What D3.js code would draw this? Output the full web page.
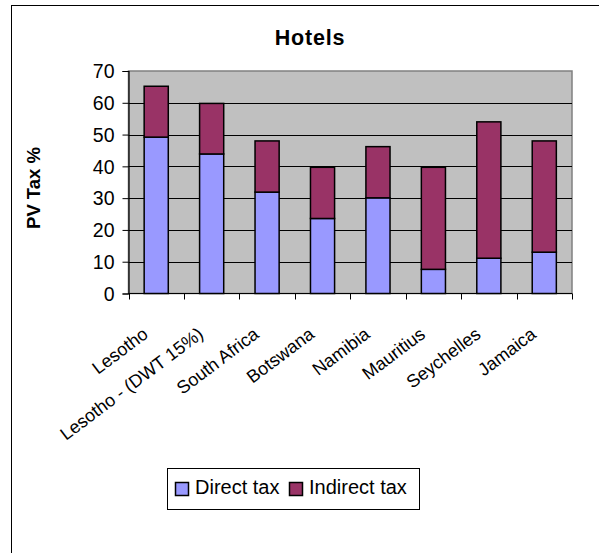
<!DOCTYPE html>
<html>
<head>
<meta charset="utf-8">
<script src="https://cdn.jsdelivr.net/npm/d3@7"></script>
<style>
  html, body { margin: 0; padding: 0; background: #fff; }
  svg { display: block; font-family: Arial, "Liberation Sans", sans-serif; }
</style>
</head>
<body>
<svg id="chart" width="599" height="553"></svg>
<script>
// Hotels: present-value tax burden, split into direct and indirect components
const categories = ["Lesotho", "Lesotho - (DWT 15%)", "South Africa", "Botswana",
                    "Namibia", "Mauritius", "Seychelles", "Jamaica"];
const directTax   = [49.2, 43.9, 31.9, 23.6, 30.1, 7.6, 11.1, 13.0];
const indirectTax = [16.0, 15.9, 16.1, 16.1, 16.1, 32.1, 42.9, 35.0];
const seriesNames = ["Direct tax", "Indirect tax"];
const seriesColors = ["#9999FF", "#993366"];
const yTicks = [0, 10, 20, 30, 40, 50, 60, 70];

const svg = d3.select("#chart");

// outer chart frame (runs off the right and bottom edges)
svg.append("rect")
  .attr("x", 11.5).attr("y", 5.5)
  .attr("width", 620).attr("height", 600)
  .attr("fill", "#fff").attr("stroke", "#000").attr("stroke-width", 1);

const plot = { left: 128.5, right: 572, top: 71, bottom: 293.5 };

const x = d3.scaleBand()
  .domain(categories)
  .range([plot.left, plot.right])
  .paddingInner(0.565).paddingOuter(0.2825);

const xb = d3.scaleBand().domain(categories).range([plot.left, plot.right]);

const y = d3.scaleLinear().domain([0, 70]).range([plot.bottom, plot.top]);

// plot background
svg.append("rect")
  .attr("x", plot.left).attr("y", plot.top)
  .attr("width", plot.right - plot.left).attr("height", plot.bottom - plot.top)
  .attr("fill", "#C0C0C0").attr("stroke", "#808080").attr("stroke-width", 1.5);

// horizontal gridlines
svg.append("g").selectAll("line")
  .data(yTicks.filter(t => t > 0 && t < 70))
  .join("line")
  .attr("x1", plot.left).attr("x2", plot.right)
  .attr("y1", d => Math.round(y(d)) + 0.5).attr("y2", d => Math.round(y(d)) + 0.5)
  .attr("stroke", "#000").attr("stroke-width", 1);

// stacked bars
const stackData = categories.map((c, i) => ({ cat: c, direct: directTax[i], indirect: indirectTax[i] }));
const stacked = d3.stack().keys(["direct", "indirect"])(stackData);

svg.append("g").selectAll("g")
  .data(stacked)
  .join("g")
  .attr("fill", (d, i) => seriesColors[i])
  .selectAll("rect")
  .data(d => d)
  .join("rect")
  .attr("x", d => x(d.data.cat))
  .attr("width", x.bandwidth())
  .attr("y", d => y(d[1]))
  .attr("height", d => y(d[0]) - y(d[1]))
  .attr("stroke", "#000").attr("stroke-width", 1.5);

// y axis
const yAxis = d3.axisLeft(y).tickValues(yTicks).tickSize(6).tickPadding(8).tickFormat(d3.format("d"));
const gy = svg.append("g").attr("transform", `translate(${plot.left},0)`).call(yAxis);
gy.select(".domain").attr("stroke", "#000").attr("stroke-width", 1.2);
gy.selectAll(".tick line").attr("stroke", "#000");
gy.selectAll(".tick text")
  .attr("font-size", "19.5px").attr("font-family", "Arial, 'Liberation Sans', sans-serif")
  .attr("fill", "#000").attr("dy", "0.35em");

// x axis with ticks at category boundaries
const gx = svg.append("g");
gx.append("line")
  .attr("x1", plot.left).attr("x2", plot.right)
  .attr("y1", plot.bottom).attr("y2", plot.bottom)
  .attr("stroke", "#000").attr("stroke-width", 1.2);
const bounds = categories.map(c => xb(c)).concat([plot.right]);
gx.selectAll("line.tk")
  .data(bounds)
  .join("line").attr("class", "tk")
  .attr("x1", d => Math.round(d) + 0.5).attr("x2", d => Math.round(d) + 0.5)
  .attr("y1", plot.bottom).attr("y2", plot.bottom + 6)
  .attr("stroke", "#000");

// rotated category labels
gx.selectAll("text")
  .data(categories)
  .join("text")
  .attr("transform", d => `translate(${xb(d) + xb.bandwidth() / 2 - 7},${plot.bottom + 43}) rotate(-37)`)
  .attr("text-anchor", "end")
  .attr("font-size", "18px")
  .attr("fill", "#000")
  .text(d => d);

// title
svg.append("text")
  .attr("x", 310).attr("y", 45)
  .attr("text-anchor", "middle")
  .attr("font-size", "21.5px").attr("font-weight", "bold")
  .attr("letter-spacing", "0.8px")
  .text("Hotels");

// y axis title
svg.append("text")
  .attr("transform", `translate(40,188) rotate(-90)`)
  .attr("text-anchor", "middle")
  .attr("font-size", "18.5px").attr("font-weight", "bold")
  .text("PV Tax %");

// legend
const leg = svg.append("g");
leg.append("rect")
  .attr("x", 167.5).attr("y", 468.5).attr("width", 252).attr("height", 41)
  .attr("fill", "#fff").attr("stroke", "#000").attr("stroke-width", 1);
const legX = [175, 289];
const legItems = leg.selectAll("g.item")
  .data(seriesNames)
  .join("g").attr("class", "item")
  .attr("transform", (d, i) => `translate(${legX[i]},0)`);
legItems.append("rect")
  .attr("x", 0.5).attr("y", 482.5).attr("width", 13).attr("height", 13)
  .attr("fill", (d, i) => seriesColors[i])
  .attr("stroke", "#000").attr("stroke-width", 1.5);
legItems.append("text")
  .attr("x", 20).attr("y", 494)
  .attr("font-size", "20px")
  .attr("fill", "#000")
  .text(d => d);
</script>
</body>
</html>
